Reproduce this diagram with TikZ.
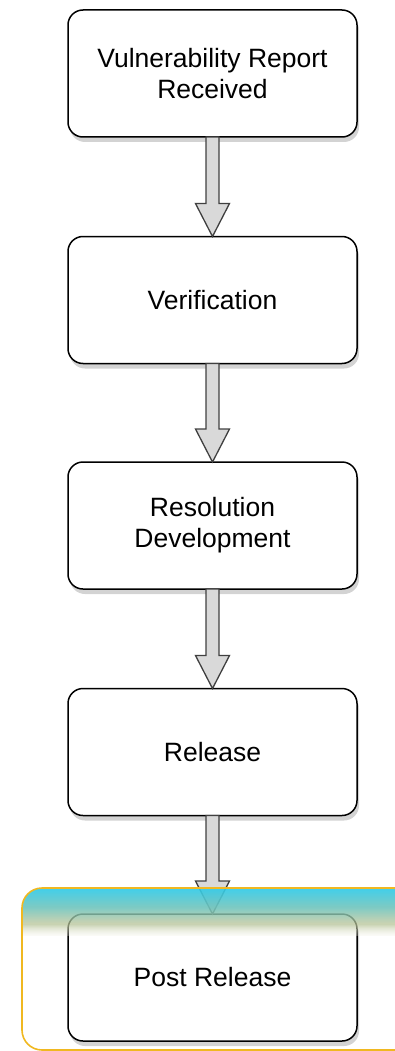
\documentclass[tikz,border=0pt]{standalone}
\usepackage{fontspec}
\setmainfont{Liberation Sans}
\usetikzlibrary{calc,shadows}
\definecolor{hlcyan}{HTML}{2CCAE8}
\definecolor{hlteal}{HTML}{70C4BC}
\definecolor{hlolive}{HTML}{B4C296}
\definecolor{hlcream}{HTML}{EEEEE0}
\definecolor{hlborder}{HTML}{F0B820}
\tikzset{
  stage/.style={shape=rectangle,draw=black,fill=white,line width=1.5pt,
    rounded corners=15pt,minimum width=289pt,minimum height=127pt,
    outer sep=0pt,align=center,font=\fontsize{26.5}{31}\selectfont,
    drop shadow={shadow xshift=2pt,shadow yshift=-5pt,opacity=0.35}},
  flowarrow/.style={draw=black!75,fill=black!15,line width=1.3pt,line join=miter}
}
\begin{document}
\begin{tikzpicture}[x=1pt,y=-1pt]
  \useasboundingbox (0,0) rectangle (395,1051);
  \node[stage] (report) at (212.5,73.5) {Vulnerability Report\\Received};
  \node[stage] (verif) at (212.5,300) {Verification};
  \node[stage] (resol) at (212.5,525.5) {Resolution\\Development};
  \node[stage] (release) at (212.5,752) {Release};
  \node[stage] (post) at (212.5,977.5) {Post Release};
  % block arrows between the stages
  \foreach \a/\b in {report/verif,verif/resol,resol/release,release/post}{
    \path[flowarrow] let \p1=(\a.south), \p2=(\b.north) in
      (\x1-6.5,\y1) -- (\x1+6.5,\y1) -- (\x1+6.5,\y2+33) -- (\x1+17,\y2+33)
      -- (\x2,\y2) -- (\x1-17,\y2+33) -- (\x1-6.5,\y2+33) -- cycle;
  }
  % highlight round the last stage
  \begin{scope}
    \clip[rounded corners=20pt] (22,888) rectangle (420,1050);
    \foreach \i in {0,...,19}{
      \pgfmathsetmacro\mix{100*\i/19}
      \fill[hlteal!\mix!hlcyan,fill opacity=0.9] (22,888+\i) rectangle (420,889+\i);
    }
    \foreach \i in {0,...,15}{
      \pgfmathsetmacro\mix{100*\i/15}
      \pgfmathsetmacro\op{0.88-0.15*\i/15}
      \fill[hlolive!\mix!hlteal,fill opacity=\op] (22,908+\i) rectangle (420,909+\i);
    }
    \foreach \i in {0,...,11}{
      \pgfmathsetmacro\mix{100*\i/11}
      \pgfmathsetmacro\op{0.73-0.45*\i/11}
      \fill[hlcream!\mix!hlolive,fill opacity=\op] (22,924+\i) rectangle (420,925+\i);
    }
  \end{scope}
  \draw[hlborder,line width=1.6pt,rounded corners=20pt] (22,888) rectangle (420,1050);
\end{tikzpicture}
\end{document}
